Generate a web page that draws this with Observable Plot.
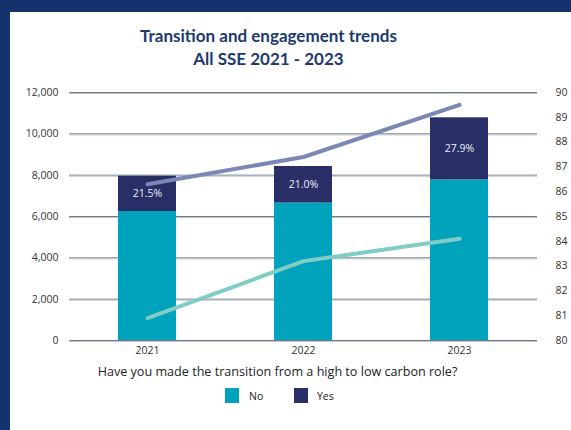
<!DOCTYPE html>
<html>
<head>
<meta charset="utf-8">
<script src="https://cdn.jsdelivr.net/npm/d3@7"></script>
<script src="https://cdn.jsdelivr.net/npm/@observablehq/plot@0.6"></script>
<style>
  html, body { margin: 0; padding: 0; background: #ffffff; }
  #page { position: relative; width: 571px; height: 430px; background: #ffffff; overflow: hidden; font-family: "Open Sans", sans-serif; }
  #bandTop { position: absolute; left: 0; top: 0; width: 571px; height: 12px; background: #14336c; }
  #bandLeft { position: absolute; left: 0; top: 0; width: 10px; height: 430px; background: #14336c; }
  #title { position: absolute; left: 0; top: 24px; width: 537px; text-align: center; font-family: Lato, sans-serif; font-weight: 700; font-size: 17px; line-height: 23px; color: #1c3a6e; letter-spacing: 0px; }
  #chart { position: absolute; left: 0; top: 80px; }
  #xtitle { position: absolute; left: 0; top: 363px; width: 555px; text-align: center; font-size: 12.6px; color: #222; }
  #legend { position: absolute; top: 388px; left: 0; width: 571px; height: 18px; font-size: 10.5px; color: #222; }
  .sw { position: absolute; width: 14px; height: 15px; top: 0; }
  .lt { position: absolute; top: 1px; }
</style>
</head>
<body>
<div id="page">
  <div id="bandTop"></div>
  <div id="bandLeft"></div>
  <div id="title">Transition and engagement trends<br>All SSE 2021 - 2023</div>
  <div id="chart"></div>
  <div id="xtitle">Have you made the transition from a high to low carbon role?</div>
  <div id="legend"></div>
</div>
<script>
const years = ["2021", "2022", "2023"];
const noValues = [6240, 6650, 7770];
const yesValues = [1710, 1770, 3005];
const yesPct = ["21.5%", "21.0%", "27.9%"];
const upperLine = [86.3, 87.4, 89.5];
const lowerLine = [80.9, 83.2, 84.1];
const series = ["No", "Yes"];
const seriesColors = ["#00a3bb", "#292e66"];
const leftTicks = [0, 2000, 4000, 6000, 8000, 10000, 12000];
const rightTicks = [80, 81, 82, 83, 84, 85, 86, 87, 88, 89, 90];

const R0 = 80, RK = 1200; // right axis 80..90 mapped onto 0..12000
const toLeft = v => (v - R0) * RK;

const rows = [];
years.forEach((y, i) => {
  rows.push({year: y, series: "No", value: noValues[i], label: null});
  rows.push({year: y, series: "Yes", value: yesValues[i], label: yesPct[i]});
});
const upper = years.map((y, i) => ({year: y, v: toLeft(upperLine[i])}));
const lower = years.map((y, i) => ({year: y, v: toLeft(lowerLine[i])}));

const plot = Plot.plot({
  width: 571,
  height: 280,
  marginLeft: 69,
  marginRight: 34,
  marginTop: 12,
  marginBottom: 20,
  style: {fontFamily: "'Open Sans', sans-serif", fontSize: "10.5px", color: "#333", background: "transparent"},
  x: {domain: years, paddingInner: 0.63, paddingOuter: 0.315, label: null},
  y: {domain: [0, 12000], label: null},
  color: {domain: series, range: seriesColors},
  marks: [
    Plot.ruleY(leftTicks, {stroke: "#6f7f8f", strokeWidth: 1}),
    Plot.ruleY(leftTicks, {stroke: "#b9c1ca", strokeWidth: 1, dy: 1}),
    Plot.barY(rows, {x: "year", y: "value", fill: "series", z: "series"}),
    Plot.text(rows, Plot.stackY({x: "year", y: "value", z: "series", text: "label", fill: "#eef0f6", fontSize: 10.5})),
    Plot.line(upper, {x: "year", y: "v", stroke: "#7b88b5", strokeWidth: 4, strokeLinecap: "round"}),
    Plot.line(lower, {x: "year", y: "v", stroke: "#80cdc6", strokeWidth: 4, strokeLinecap: "round"}),
    Plot.axisY({ticks: leftTicks, tickSize: 0, tickPadding: 11, tickFormat: d => d3.format(",")(d), label: null, anchor: "left"}),
    Plot.axisY({ticks: rightTicks.map(toLeft), tickSize: 0, tickPadding: 18, tickFormat: d => String(Math.round(d / RK + R0)), label: null, anchor: "right", textAnchor: "start"}),
    Plot.axisX({tickSize: 0, tickPadding: 6, label: null})
  ]
});
document.getElementById("chart").appendChild(plot);

const legend = document.getElementById("legend");
const legendPos = [{sx: 225, tx: 249}, {sx: 294, tx: 317}];
series.forEach((s, i) => {
  const sw = document.createElement("div");
  sw.className = "sw";
  sw.style.left = legendPos[i].sx + "px";
  sw.style.background = seriesColors[i];
  legend.appendChild(sw);
  const t = document.createElement("div");
  t.className = "lt";
  t.style.left = legendPos[i].tx + "px";
  t.textContent = s;
  legend.appendChild(t);
});
</script>
</body>
</html>
